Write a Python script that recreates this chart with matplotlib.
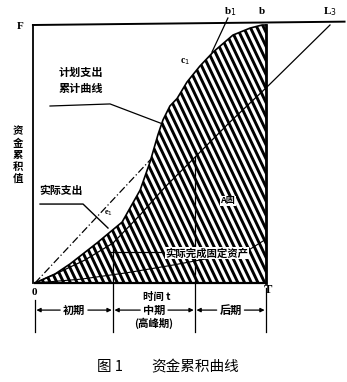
import numpy as np
import matplotlib
matplotlib.use('Agg')
import matplotlib.pyplot as plt
from matplotlib.patches import Polygon

plt.rcParams['font.family'] = ['Noto Sans CJK SC', 'DejaVu Sans']

# 数据：时间 t 取 0~100（T=100），资金累积值取 0~100（F=100）
t_plan = [0, 8.7, 15.2, 26.8, 37.7, 45.5, 49.8, 53.2, 55.4, 58.4, 61.5, 65.8, 71.4, 77.1, 85.7, 93.1, 98.3, 100]
v_plan = [0, 3.5, 7.4, 15.5, 23.6, 36.0, 46.9, 57.4, 63.2, 68.6, 71.5, 77.9, 84.1, 89.5, 96.1, 98.8, 100, 100]

t_actual = [0, 10.8, 21.6, 33.8, 45.5, 56.3, 69.3, 84.4, 100]
v_actual = [0, 4.3, 8.9, 15.5, 26.4, 37.2, 48.8, 62.4, 75.6]
t_L3, v_L3 = 127.7, 100          # 实际支出延长线终点 L3

t_asset = [0, 20, 40, 60, 75, 85, 92, 100]
v_asset = [0, 1.5, 4, 7, 9.5, 11, 12.5, 17]

t_dash = [0, 50.6]              # 点划线
v_dash = [0, 48.4]

period_edges = [0, 33.8, 69.3, 100]
period_names = ['初期', '中期', '后期']

fig = plt.figure(figsize=(3.47, 3.82), dpi=100)
ax = fig.add_axes([0, 0, 1, 1])
ax.set_xlim(-15.15, 135.06)
ax.set_ylim(-38.37, 109.69)
ax.axis('off')

# 阴影区：计划曲线以下
poly_xy = list(zip(t_plan, v_plan)) + [(100, 0)]
patch = Polygon(poly_xy, closed=True, facecolor='white', edgecolor='none')
ax.add_patch(patch)
for c in np.arange(-2, 160, 2.9):
    tt = np.array([c - 60, c + 10])
    ln, = ax.plot(tt, -1.88 * (tt - c), color='black', lw=2.1, solid_capstyle='butt')
    ln.set_clip_path(patch)

ax.plot(t_plan, v_plan, color='black', lw=1.2)

# 坐标框线
ax.plot([-0.9, -0.9], [0, 100], color='black', lw=1.3)
ax.plot([-0.9, 134], [100, 101.3], color='black', lw=1.4)
ax.plot([0, 100], [0, 0], color='black', lw=1.6)
ax.plot([100, 100], [0, 100], color='black', lw=2.0)

# 实际支出曲线及延长线
ax.plot(t_actual, v_actual, color='black', lw=0.9)
ax.plot([t_actual[-1], t_L3], [v_actual[-1], v_L3], color='black', lw=0.9)
ax.plot(t_asset, v_asset, color='black', lw=0.8)
ax.plot(t_dash, v_dash, color='black', lw=0.9, linestyle=(0, (6, 2, 1, 2)))

# b1 线
ax.plot([76.6, 83.5], [89.5, 102.7], color='black', lw=0.9)

# 分期竖线
for i, x in enumerate(period_edges):
    top = -6.6 if i == 0 else (np.interp(x, t_actual, v_actual) if i in (1, 2) else -1.9)
    ax.plot([x, x], [top, -19], color='black', lw=0.9)

# 分期箭头
arr = dict(arrowstyle='-|>', color='black', lw=0.9, mutation_scale=6, shrinkA=0, shrinkB=0)
yrow = -10.5
for i, name in enumerate(period_names):
    a, b = period_edges[i], period_edges[i + 1]
    mid = (a + b) / 2
    ax.text(mid, yrow, name, ha='center', va='center', fontsize=8, fontweight='bold')
    ax.annotate('', xy=(a + 0.6, yrow), xytext=(mid - 6, yrow), arrowprops=arr)
    ax.annotate('', xy=(b - 0.6, yrow), xytext=(mid + 6, yrow), arrowprops=arr)
ax.text(51.5, -15.8, '(高峰期)', ha='center', va='center', fontsize=7.5, fontweight='bold')
ax.text(52.5, -5.3, '时间 t', ha='center', va='center', fontsize=7.5, fontweight='bold')

# 引线与标注
ax.plot([6.5, 32.5, 55.4], [68.6, 69.4, 61.6], color='black', lw=0.9)
ax.text(20, 78.5, '计划支出\n累计曲线', ha='center', va='center', fontsize=8,
        fontweight='bold', linespacing=1.3)
ax.plot([2.2, 20.8, 31.6], [30.6, 30.6, 21.3], color='black', lw=1.0)
ax.text(11.2, 35.7, '实际支出', ha='center', va='center', fontsize=7.8, fontweight='bold')
ax.text(-7.4, 49.6, '资\n金\n累\n积\n值', ha='center', va='center', fontsize=7.5,
        fontweight='bold', linespacing=1.2)
ax.plot([32.5, 55.4], [12, 12], color='black', lw=0.9)
ax.text(74.5, 11.6, '实际完成固定资产', ha='center', va='center', fontsize=7.5, fontweight='bold',
        bbox=dict(facecolor='white', edgecolor='none', pad=0.3))
ax.text(83.5, 31.8, 'A固', ha='center', va='center', fontsize=6.5, fontweight='bold',
        bbox=dict(facecolor='white', edgecolor='none', pad=0.6))

serif = dict(family='Liberation Serif', fontweight='bold')
ax.text(-6.5, 99.5, 'F', ha='center', va='center', fontsize=8, **serif)
ax.text(84.4, 105.2, 'b$_1$', ha='center', va='center', fontsize=8, **serif)
ax.text(98.3, 105.2, 'b', ha='center', va='center', fontsize=8, **serif)
ax.text(127.7, 105.2, 'L$_3$', ha='center', va='center', fontsize=8, **serif)
ax.text(65, 85.7, 'c$_1$', ha='center', va='center', fontsize=7, **serif)
ax.text(31.8, 27.1, 'e$_1$', ha='center', va='center', fontsize=6, **serif)
ax.text(-0.4, -3.6, '0', ha='center', va='center', fontsize=8, **serif)
ax.text(101, -2.8, 'T', ha='center', va='center', fontsize=9, **serif)

# 图题
ax.text(32.4, -32.6, '图 1', ha='center', va='center', fontsize=10.5)
ax.text(69.5, -32.6, '资金累积曲线', ha='center', va='center', fontsize=10.5)

fig.savefig('out.png', dpi=100)
